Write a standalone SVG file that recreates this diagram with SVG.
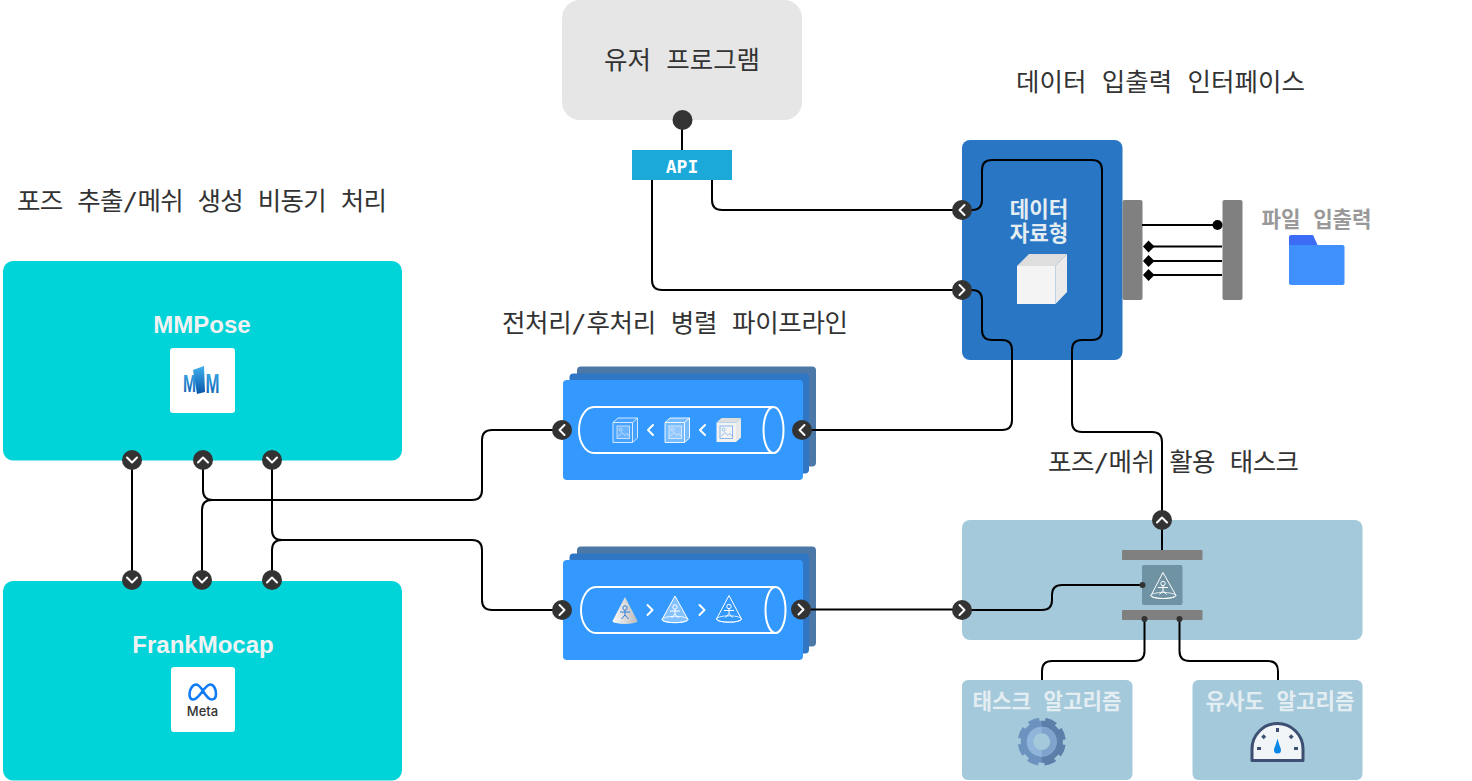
<svg xmlns="http://www.w3.org/2000/svg" width="1472" height="781" viewBox="0 0 1472 781">
<style>
text{font-family:"DejaVu Sans Mono","Noto Sans CJK KR",monospace;text-anchor:middle}
.t{font-size:25.500px;fill:#333}
.w{font-size:21.200px;font-weight:bold;fill:#e4edf2}
.n{font-family:"Liberation Sans",Arial,sans-serif;font-size:24px;font-weight:bold;fill:#f2f2f2}
.c{fill:none;stroke:#000;stroke-width:2}
.bar{fill:#808080}
.port{fill:#333}
.ch{fill:none;stroke:#fff;stroke-width:2;stroke-linecap:round;stroke-linejoin:round}
</style>
<defs>
<g id="pd" class="port"><circle r="10"/><path class="ch" d="M-5-2.500 0 2.500 5-2.500"/></g>
<g id="pu" class="port"><circle r="10"/><path class="ch" d="M-5 2.500 0-2.500 5 2.500"/></g>
<g id="pl" class="port"><circle r="10"/><path class="ch" d="M2.500-5-2.500 0 2.500 5"/></g>
<g id="pr" class="port"><circle r="10"/><path class="ch" d="M-2.500-5 2.500 0-2.500 5"/></g>
<g id="stack"><rect x="14" y="-13.500" width="239" height="100" rx="4" fill="#4b78a6"/><rect x="6.500" y="-6.500" width="239.500" height="100" rx="4" fill="#2f76c4"/><rect width="240" height="100" rx="4" fill="#3399ff"/></g>
<g id="pic"><rect width="12.500" height="12.500" fill="#ffffff33" stroke="currentColor" stroke-width=".9"/><circle cx="3.600" cy="3.600" r="1.500" fill="none" stroke="currentColor" stroke-width=".8"/><path d="M1 10.500 4.800 6.500 8 9.500 9.800 7.500 12 10" fill="none" stroke="currentColor" stroke-width=".8"/></g>
<g id="person" fill="none" stroke="currentColor" stroke-width="1"><circle cx="0" cy="-3" r="2.200"/><path d="M0-.8V4M-5 1H5M0 4-3.500 8M0 4 3.500 8"/></g>
<g id="gearshape"><circle cx="1041.700" cy="741.700" r="20.500"/><circle cx="1041.700" cy="741.700" r="21" fill="none" stroke-width="6" stroke-dasharray="10.500 5.990" stroke-dashoffset="-3"/></g>
<linearGradient id="mmg" x1="0" y1="0" x2="0" y2="1"><stop offset="0" stop-color="#3fb0ee"/><stop offset="1" stop-color="#0a55a8"/></linearGradient>
<linearGradient id="cone" x1="0" y1="0" x2="1" y2="0"><stop offset="0" stop-color="#fafafa"/><stop offset="1" stop-color="#bbb"/></linearGradient>
<clipPath id="rhalf"><rect x="1041.700" y="710" width="30" height="64"/></clipPath>
</defs>

<g id="user-program"><rect x="562" y="0" width="240" height="120" rx="18" fill="#e6e6e6"/><text class="t" x="682" y="69">유저 프로그램</text></g>
<g id="api"><rect x="632" y="150" width="100" height="30" fill="#1ba9d9"/><text x="682" y="173" font-size="18" font-weight="bold" fill="#fff">API</text></g>
<g id="title-data"><text class="t" x="1160.500" y="91">데이터 입출력 인터페이스</text></g>
<g id="title-pose"><text class="t" x="202" y="210" textLength="370">포즈 추출/메쉬 생성 비동기 처리</text></g>
<g id="title-pipe"><text class="t" x="675" y="332" textLength="346">전처리/후처리 병렬 파이프라인</text></g>
<g id="title-task"><text class="t" x="1173.500" y="471" textLength="251">포즈/메쉬 활용 태스크</text></g>

<g id="mmpose"><rect x="3" y="261" width="399" height="199.500" rx="10" fill="#00d4d8"/><text class="n" x="202" y="333">MMPose</text>
<rect x="170" y="348" width="65" height="65" rx="3" fill="#fff"/>
<text x="189.500" y="392" font-size="24" font-weight="bold" fill="url(#mmg)" style="font-family:'Liberation Sans',sans-serif" textLength="13" lengthAdjust="spacingAndGlyphs">M</text>
<path d="M193 370 204 366 205 392 197 394Z" fill="url(#mmg)"/>
<text x="212.500" y="393" font-size="27" font-weight="bold" fill="url(#mmg)" style="font-family:'Liberation Sans',sans-serif" textLength="14" lengthAdjust="spacingAndGlyphs">M</text></g>
<g id="frankmocap"><rect x="3" y="581" width="399" height="199.500" rx="10" fill="#00d4d8"/><text class="n" x="203" y="653">FrankMocap</text>
<rect x="171" y="667" width="64" height="65" rx="3" fill="#fff"/>
<path d="M193.500 699.500c-2.500 0-4-2-4-5 0-6 3.500-10 7-10 5 0 9 15 15 15 3 0 4.500-2 4.500-5.500 0-5.500-2.500-9.500-6-9.500-5 0-11 15-16.500 15Z" fill="none" stroke="#0f7bf5" stroke-width="2.600"/>
<text x="202.500" y="716" font-size="13" font-weight="500" fill="#333" style="font-family:Inter,sans-serif">Meta</text></g>

<g id="pipeline-pre"><use href="#stack" x="563" y="380"/>
<path d="M773.500 407H594a15 23 0 0 0 0 46H773.500" fill="none" stroke="#fff" stroke-width="2"/><ellipse cx="773.500" cy="430" rx="10" ry="23" fill="none" stroke="#fff" stroke-width="2"/>
<path d="M613 422.500h19.500V442.500H613ZM613 422.500 618 418H637.500V438L632.500 442.500M632.500 422.500 637.500 418" fill="#ffffff18" stroke="#e6f1ff" stroke-width=".9"/>
<use href="#pic" x="617" y="426" color="#cfe4ff"/>
<path d="M665 422.500h19.500V442.500H665ZM665 422.500 670 418H689.500V438L684.500 442.500M684.500 422.500 689.500 418" fill="#ffffff55" stroke="#fff" stroke-width=".9"/>
<use href="#pic" x="669" y="426" color="#dcebff"/>
<path d="M716.500 422.500H736V442H716.500Z" fill="#f2f2f2"/><path d="M716.500 422.500 721.500 418H741L736 422.500Z" fill="#ddd"/><path d="M736 422.500 741 418V437.500L736 442Z" fill="#e8e8e8"/>
<use href="#pic" x="720" y="426" color="#7fb0ea"/>
<path class="ch" d="M653 425 648 430 653 435M705 425 700 430 705 435"/></g>

<g id="pipeline-post"><use href="#stack" x="563" y="560"/>
<path d="M775.500 587H596a15 23 0 0 0 0 46H775.500" fill="none" stroke="#fff" stroke-width="2"/><ellipse cx="775.500" cy="610" rx="10" ry="23" fill="none" stroke="#fff" stroke-width="2"/>
<path d="M625 597 612.500 621a12.500 3 0 0 0 25 0Z" fill="url(#cone)"/><use href="#person" x="625" y="611" color="#2f80dd"/>
<path d="M675 596 662 619.500a13 3.200 0 0 0 26 0Z" fill="#ffffff66" stroke="#fff" stroke-width="1"/><ellipse cx="675" cy="619.500" rx="13" ry="3.200" fill="none" stroke="#fff" stroke-width=".8"/><use href="#person" x="675" y="610" color="#fff"/>
<path d="M729 595.500 716.500 619a12.500 3.200 0 0 0 25 0Z" fill="none" stroke="#fff" stroke-width="1"/><ellipse cx="729" cy="619" rx="12.500" ry="3.200" fill="none" stroke="#fff" stroke-width=".8"/><use href="#person" x="729" y="609.500" color="#fff"/>
<path class="ch" d="M647.500 605 652.500 610 647.500 615M699.500 605 704.500 610 699.500 615"/></g>

<g id="data-struct"><rect x="962" y="140" width="160.500" height="220" rx="8" fill="#2976c4"/>
<text class="w" x="1039" y="217">데이터</text><text class="w" x="1039" y="241">자료형</text>
<path d="M1017 266H1055.500V304H1017Z" fill="#f4f4f4"/><path d="M1017 266 1029 254H1067L1055.500 266Z" fill="#dedede"/><path d="M1055.500 266 1067 254V292L1055.500 304Z" fill="#ebebeb"/></g>

<g id="io-left"><rect class="bar" x="1122.500" y="200" width="20" height="100" rx="2"/></g>
<g id="io-right"><rect class="bar" x="1222.500" y="200" width="20" height="100" rx="2"/></g>
<g id="file-io"><text x="1316.500" y="226.500" font-size="21.200" font-weight="bold" fill="#999">파일 입출력</text>
<path d="M1289 248V237a2 2 0 0 1 2-2H1313l6 13Z" fill="#3c6cf5"/><path d="M1289 245H1342.500a2 2 0 0 1 2 2V283a2 2 0 0 1-2 2H1291a2 2 0 0 1-2-2Z" fill="#3f8ffc"/></g>

<g id="task-panel"><rect x="962" y="520" width="400.500" height="120" rx="8" fill="#a3c9db"/>
<rect class="bar" x="1122" y="550" width="80.500" height="10" rx="1"/><rect class="bar" x="1122" y="610" width="80.500" height="10" rx="1"/>
<rect x="1142" y="565" width="40.500" height="40" rx="2" fill="#7093a3"/>
<path d="M1163 572.500 1151 595.500a12.500 3 0 0 0 25 0Z" fill="none" stroke="#fff" stroke-width="1"/><ellipse cx="1163" cy="595.500" rx="12.500" ry="3" fill="none" stroke="#fff" stroke-width=".8"/><use href="#person" x="1163" y="586.500" color="#fff"/></g>
<g id="task-algo"><rect x="962" y="680" width="170.500" height="100" rx="6" fill="#a3c9db"/><text class="w" x="1047" y="708.500">태스크 알고리즘</text>
<use href="#gearshape" fill="#6c93bf" stroke="#6c93bf"/><use href="#gearshape" fill="#5b7fa9" stroke="#5b7fa9" clip-path="url(#rhalf)"/>
<circle cx="1041.700" cy="741.700" r="15" fill="#8fb5da"/><path d="M1041.700 726.700a15 15 0 0 1 0 30Z" fill="#7ea3cc"/><circle cx="1041.700" cy="741.700" r="8.500" fill="#a3c9db"/></g>
<g id="sim-algo"><rect x="1192.500" y="680" width="170" height="100" rx="6" fill="#a3c9db"/><text class="w" x="1280" y="708.500">유사도 알고리즘</text>
<path d="M1252 760.500V749a25.500 25.500 0 0 1 51 0V760.500Z" fill="#f2f5f7" stroke="#3d4f72" stroke-width="3" stroke-linejoin="round"/>
<g fill="#3d4f72"><rect x="1276" y="728" width="3" height="4"/><rect x="1262" y="735" width="3.500" height="3.500" transform="rotate(45 1263.700 736.700)"/><rect x="1289.500" y="735" width="3.500" height="3.500" transform="rotate(45 1291.200 736.700)"/><rect x="1257" y="747" width="4" height="3"/><rect x="1294" y="747" width="4" height="3"/></g>
<path d="M1277.500 738.500C1276 745 1274 748 1274 750a3.500 3.500 0 0 0 7 0C1281 748 1279 745 1277.500 738.500Z" fill="#0b86e6"/></g>

<g id="connectors">
<path class="c" d="M682 120V150"/>
<path class="c" d="M712 180V200Q712 210 722 210H962"/>
<path class="c" d="M652 180V280Q652 290 662 290H962"/>
<path class="c" d="M962 210H972Q982 210 982 200V170Q982 160 992 160H1092Q1102 160 1102 170V330Q1102 340 1092 340H1082Q1072 340 1072 350V422Q1072 432 1082 432H1152Q1162 432 1162 442V520"/>
<path class="c" d="M962 290H972Q982 290 982 300V330Q982 340 992 340H1002Q1012 340 1012 350V420Q1012 430 1002 430H802"/>
<path class="c" d="M1142 225H1217"/><path class="c" d="M1148 246.500H1222M1148 261H1222M1148 275H1222"/>
<circle cx="1217.500" cy="225" r="5"/>
<path d="M1148.500 240.500 1154.500 246.500 1148.500 252.500 1143 246.500ZM1148.500 255 1154.500 261 1148.500 267 1143 261ZM1148.500 269 1154.500 275 1148.500 281 1143 275Z"/>
<path class="c" d="M132 460V580"/>
<path class="c" d="M203 460V490Q203 500 213 500H472Q482 500 482 490V440Q482 430 492 430H562"/>
<path class="c" d="M202 580V510Q202 500 212 500H372"/>
<path class="c" d="M272 460V530Q272 540 282 540H472Q482 540 482 550V600Q482 610 492 610H562"/>
<path class="c" d="M272 580V550Q272 540 282 540H372"/>
<path class="c" d="M800 609.500H962"/>
<path class="c" d="M962 610H1042Q1052 610 1052 600V595Q1052 585 1062 585H1142"/>
<circle cx="1142.500" cy="585" r="3" fill="#333"/>
<path class="c" d="M1162 520V550"/>
<path class="c" d="M1144.500 619V651Q1144.500 661 1134.500 661H1052Q1042 661 1042 671V680"/>
<path class="c" d="M1179.500 619V651Q1179.500 661 1189.500 661H1268Q1278 661 1278 671V680"/>
<circle cx="1144.500" cy="619" r="3" fill="#333"/><circle cx="1179.500" cy="619" r="3" fill="#333"/>
<circle class="port" cx="682.500" cy="120" r="10"/>
<use href="#pl" x="962" y="210"/><use href="#pr" x="962" y="290"/>
<use href="#pl" x="562" y="430"/><use href="#pl" x="802" y="430"/>
<use href="#pr" x="562" y="610"/><use href="#pr" x="801" y="609.500"/>
<use href="#pr" x="962" y="610"/><use href="#pu" x="1162" y="520"/>
<use href="#pd" x="132" y="460"/><use href="#pu" x="203" y="460"/><use href="#pd" x="272" y="460"/>
<use href="#pd" x="132" y="580"/><use href="#pd" x="202" y="580"/><use href="#pu" x="272" y="580"/>
</g>
</svg>
